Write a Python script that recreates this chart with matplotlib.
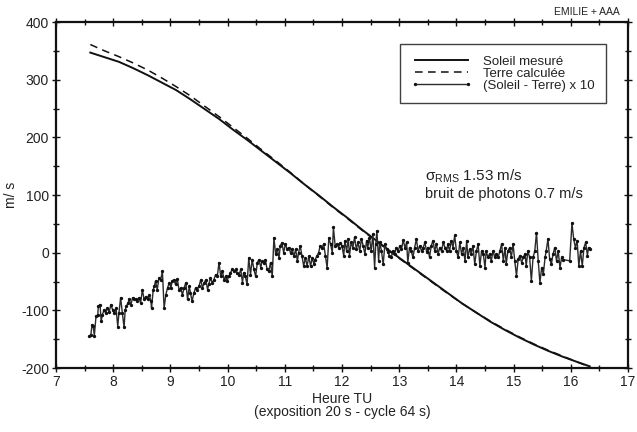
import matplotlib
matplotlib.use("Agg")
import matplotlib.pyplot as plt
from matplotlib.ticker import MultipleLocator

plt.rcParams['font.family'] = ['Liberation Sans', 'DejaVu Sans']
plt.rcParams['mathtext.fontset'] = 'custom'
plt.rcParams['mathtext.rm'] = 'Liberation Sans'
plt.rcParams['mathtext.it'] = 'Liberation Sans'
plt.rcParams['axes.unicode_minus'] = False

# ---- data ----
t_curve = [7.60, 7.85, 8.10, 8.35, 8.60, 8.85, 9.10, 9.35, 9.60, 9.85, 10.10, 10.35,
           10.60, 10.85, 11.10, 11.35, 11.60, 11.85, 12.10, 12.35, 12.60, 12.85, 13.10,
           13.35, 13.60, 13.85, 14.10, 14.35, 14.60, 14.85, 15.10, 15.35, 15.60, 15.85,
           16.10, 16.33]
soleil = [347, 339, 331, 320, 308, 295, 282, 266, 249, 232, 213, 195,
          176, 157, 138, 118, 99, 79, 60, 40, 21, 2, -16,
          -34, -52, -70, -88, -104, -120, -134, -147, -159, -170, -180,
          -189, -197]
terre = [361, 350, 340, 329, 317, 303, 288, 272, 254, 236, 217, 198,
         178, 159, 139, 118, 98, 78, 59, 39, 20, 1, -17,
         -35, -53, -71, -88, -104, -119, -133, -146, -158, -169, -179,
         -189, -198]

t_diff = [7.58, 7.61, 7.63, 7.65, 7.67, 7.70, 7.73, 7.74, 7.77, 7.79, 7.81, 7.84, 7.87, 7.90,
          7.93, 7.96, 7.99, 8.02, 8.05, 8.08, 8.10, 8.13, 8.16, 8.19, 8.21, 8.23, 8.26, 8.28,
          8.31, 8.34, 8.37, 8.40, 8.42, 8.45, 8.48, 8.51, 8.54, 8.57, 8.60, 8.63, 8.66, 8.67,
          8.70, 8.72, 8.74, 8.77, 8.80, 8.83, 8.86, 8.89, 8.92, 8.95, 8.98, 9.01, 9.03, 9.06,
          9.09, 9.12, 9.15, 9.18, 9.21, 9.24, 9.27, 9.30, 9.33, 9.35, 9.38, 9.41, 9.44, 9.47,
          9.50, 9.53, 9.56, 9.59, 9.62, 9.65, 9.67, 9.70, 9.73, 9.76, 9.79, 9.82, 9.85, 9.88,
          9.91, 9.94, 9.97, 9.99, 10.02, 10.05, 10.08, 10.11, 10.14, 10.17, 10.20, 10.23, 10.26,
          10.28, 10.31, 10.34, 10.37, 10.40, 10.43, 10.46, 10.49, 10.52, 10.55, 10.58, 10.60,
          10.63, 10.66, 10.69, 10.72, 10.75, 10.78, 10.81, 10.84, 10.87, 10.90, 10.92, 10.95,
          10.98, 11.01, 11.04, 11.07, 11.10, 11.13, 11.16, 11.19, 11.22, 11.24, 11.27, 11.30,
          11.33, 11.36, 11.39, 11.42, 11.45, 11.48, 11.51, 11.53, 11.56, 11.59, 11.62, 11.65,
          11.68, 11.71, 11.74, 11.77, 11.80, 11.83, 11.85, 11.88, 11.91, 11.94, 11.97, 12.00,
          12.03,
          12.05, 12.08, 12.11, 12.13, 12.16, 12.19, 12.22, 12.25, 12.28, 12.31, 12.34, 12.37,
          12.40, 12.43, 12.45, 12.48, 12.51, 12.54, 12.57, 12.59, 12.61, 12.64, 12.66, 12.69,
          12.72, 12.75, 12.78, 12.80, 12.83, 12.86, 12.89, 12.92, 12.95, 12.98, 13.01, 13.04,
          13.07, 13.10, 13.13, 13.15, 13.18, 13.21, 13.24, 13.27, 13.30, 13.33, 13.36, 13.39,
          13.42, 13.45, 13.48, 13.50, 13.53, 13.56, 13.59, 13.62, 13.65, 13.68, 13.71, 13.74,
          13.77, 13.80, 13.83, 13.85, 13.88, 13.91, 13.94, 13.97, 14.00, 14.03, 14.06, 14.09,
          14.12, 14.15, 14.18, 14.20, 14.23, 14.26, 14.29, 14.32, 14.35, 14.38, 14.41, 14.44,
          14.47, 14.50, 14.52, 14.55, 14.58, 14.61, 14.64, 14.67, 14.70, 14.73, 14.76, 14.79,
          14.82, 14.85, 14.87, 14.90, 14.93, 14.96, 14.99, 15.02, 15.05, 15.08, 15.11, 15.14,
          15.17, 15.20, 15.22, 15.25, 15.28, 15.31, 15.34, 15.37, 15.40, 15.43, 15.46, 15.49,
          15.52, 15.55, 15.57, 15.60, 15.63, 15.66, 15.69, 15.72, 15.75, 15.78, 15.81, 15.84,
          15.87, 15.98, 16.02, 16.05, 16.08, 16.11, 16.14, 16.17, 16.20, 16.23, 16.26, 16.29,
          16.31, 16.33]
diff10 = [-145, -142, -125, -127, -144, -110, -108, -93, -90, -119, -108, -99, -105, -96,
          -102, -90, -99, -105, -96, -128, -105, -78, -105, -129, -99, -93, -87, -81,
          -90, -78, -81, -80, -84, -78, -87, -64, -81, -76, -81, -73, -84, -96,
          -64, -58, -49, -64, -44, -47, -32, -96, -73, -61, -52, -61, -49, -47,
          -55, -45, -64, -61, -73, -61, -52, -81, -58, -70, -84, -70, -61, -64,
          -58, -47, -61, -52, -47, -64, -55, -44, -52, -47, -38, -41, -17, -41,
          -32, -47, -41, -49, -41, -35, -29, -32, -29, -35, -38, -29, -52,
          -35, -41, -55, -9, -38, -12, -29, -41, -17, -12, -26, -15,
          -17, -12, -29, -32, -17, -41, 26, -3, 6, -9, 12, 17,
          0, 15, 6, 9, 0, 6, -6, 6, -15, 0, 12, -6,
          -23, -9, -23, -6, -23, -9, -20, -12, -6, 0, 12, 9,
          15, -6, -26, 26, 15, 0, 44, 12, 15, 9, 17, 12,
          -6,
          21, 3, 24, -5, 18, 9, 27, 6, 18, 3, 24, 12,
          -2, 21, 9, 26, 3, 32, -26, 15, 38, -14, 18, 3,
          -20, 15, 6, 1, -5, -8, 3, -2, 9, 3, 12, 6,
          22, 9, 18, -17, 9, 3, -8, 9, 24, 3, 12, 3,
          9, 18, 1, 9, -8, 12, 21, 3, 15, -2, 9, 3,
          18, 9, 3, 15, 3, 21, 9, 30, 3, -8, 18, -2,
          9, -14, 21, -8, 6, -2, 12, -20, 3, 15, -23, 3,
          -2, -26, 3, -8, -2, -14, 3, -8, -2, -8, 3, 15,
          -14, 9, -20, 3, 9, -8, 15, -14, -40, -11, -5, -17,
          -8, -2, -23, 3, -8, -49, -8, 3, 35, -14, -52, -26,
          -37, -8, 3, 24, -11, -20, -2, 9, -14, 3, -26, -8,
          -12, -14, 51, 24, 9, 21, -23, 3, -23, 9, 18, -5,
          9, 6]

x_ticks = [7, 8, 9, 10, 11, 12, 13, 14, 15, 16, 17]
y_ticks = [-200, -100, 0, 100, 200, 300, 400]

# ---- figure ----
fig = plt.figure(figsize=(6.37, 4.32), dpi=100)
ax = fig.add_axes([0.0879, 0.148, 0.898, 0.801])

ax.plot(t_curve, soleil, color='#111111', lw=1.4, label='Soleil mesuré')
ax.plot(t_curve, terre, color='#111111', lw=1.1, ls=(0, (5, 3.5)),
        label='Terre calculée')
ax.plot(t_diff, diff10, color='#2a2a2a', lw=1.0, marker='o', ms=1.4,
        mfc='#111111', mec='#111111', label='(Soleil - Terre) x 10')

ax.set_xlim(7, 17)
ax.set_ylim(-200, 400)
ax.set_xticks(x_ticks)
ax.set_yticks(y_ticks)
ax.xaxis.set_minor_locator(MultipleLocator(0.5))
ax.yaxis.set_minor_locator(MultipleLocator(50))
ax.tick_params(axis='both', which='both', direction='inout', top=True, right=True,
               labelsize=10, color='#111111', labelcolor='#222222', pad=2)
ax.tick_params(which='major', length=6, width=1)
ax.tick_params(which='minor', length=5, width=1)
for s in ax.spines.values():
    s.set_linewidth(1.6)
    s.set_color('#111111')

ax.set_xlabel('Heure TU\n(exposition 20 s - cycle 64 s)', fontsize=10,
              color='#222222', linespacing=0.95, labelpad=2)
ax.set_ylabel('m/ s', fontsize=10, color='#222222', labelpad=2)

leg = ax.legend(loc='upper right', bbox_to_anchor=(0.962, 0.936), fontsize=9.5,
                frameon=True, fancybox=False, numpoints=2, handlelength=4.6,
                borderpad=0.85, labelspacing=0.0, handletextpad=0.9,
                borderaxespad=0)
leg.get_frame().set_edgecolor('#111111')
leg.get_frame().set_linewidth(1.0)
for txt in leg.get_texts():
    txt.set_color('#222222')

ax.text(13.45, 132, 'σ$_{\\mathrm{RMS}}$ 1.53 m/s', fontsize=11, color='#222222',
        va='center', ha='left')
ax.text(13.45, 101, 'bruit de photons 0.7 m/s', fontsize=10.5, color='#222222',
        va='center', ha='left')
ax.text(0.986, 1.015, 'EMILIE + AAA', transform=ax.transAxes, fontsize=7.5,
        ha='right', va='bottom', color='#222222')

fig.savefig('out.png', dpi=100)
